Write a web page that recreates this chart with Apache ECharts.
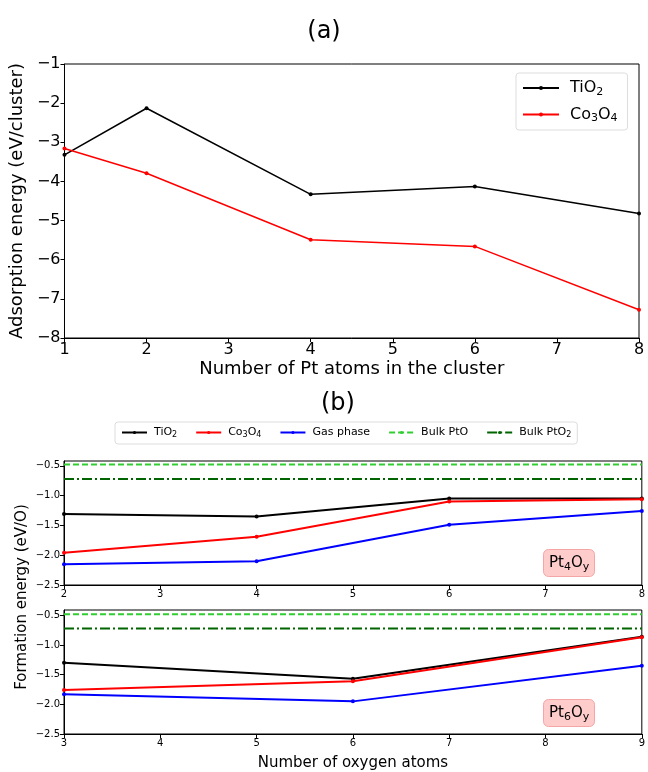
<!DOCTYPE html>
<html><head><meta charset="utf-8">
<script src="https://cdn.jsdelivr.net/npm/echarts@6/dist/echarts.min.js"></script>
<style>html,body{margin:0;padding:0;background:#fff}#c{width:648px;height:772px}</style>
</head><body><div id="c"></div>
<script>
// (a) Adsorption energy
const ptAtoms = [1, 2, 4, 6, 8];
const adsTiO2 = [-3.32, -2.13, -4.33, -4.13, -4.82];
const adsCo3O4 = [-3.16, -3.79, -5.49, -5.66, -7.28];
// (b) Pt4Oy formation energy
const oxyPt4 = [2, 4, 6, 8];
const pt4TiO2 = [-1.31, -1.35, -1.05, -1.05];
const pt4Co3O4 = [-1.96, -1.69, -1.10, -1.06];
const pt4Gas = [-2.15, -2.10, -1.49, -1.26];
// (b) Pt6Oy formation energy
const oxyPt6 = [3, 6, 9];
const pt6TiO2 = [-1.30, -1.57, -0.86];
const pt6Co3O4 = [-1.76, -1.61, -0.87];
const pt6Gas = [-1.83, -1.95, -1.35];
// bulk references
const bulkPtO = -0.48;
const bulkPtO2 = -0.72;

const FONT = 'DejaVu Sans';
const minus = v => String(v).replace('-', '\u2212');
const fmt1 = v => minus(v.toFixed(1));
const pairs = (xs, ys) => xs.map((x, i) => [x, ys[i]]);
const subName = {
  'TiO2': 'TiO{s|2}',
  'Co3O4': 'Co{s|3}O{s|4}',
  'Gas phase': 'Gas phase',
  'Bulk PtO': 'Bulk PtO',
  'Bulk PtO2': 'Bulk PtO{s|2}'
};

const chart = echarts.init(document.getElementById('c'), null, {renderer: 'canvas'});

function lineSeries(name, color, xs, ys, xi, yi, w, sym) {
  return {
    name, type: 'line', xAxisIndex: xi, yAxisIndex: yi,
    data: pairs(xs, ys), symbol: 'circle', symbolSize: sym, showSymbol: true,
    itemStyle: {color}, lineStyle: {color, width: w}, animation: false, z: 3
  };
}
function bulkSeries(name, color, v, xmin, xmax, xi, yi, type) {
  return {
    name, type: 'line', xAxisIndex: xi, yAxisIndex: yi,
    data: [[xmin, v], [xmax, v]], symbol: 'none',
    itemStyle: {color}, lineStyle: {color, width: 2, type}, animation: false, z: 2
  };
}

const dashPtO = [6, 3];
const dashPtO2 = [10, 3, 2, 3];

const axisCommonX = (idx, min, max, fs) => ({
  type: 'value', gridIndex: idx, min, max, interval: 1,
  axisLine: {show: true, lineStyle: {color: '#000', width: 1}},
  axisTick: {show: true, length: 4, lineStyle: {color: '#000'}},
  axisLabel: {color: '#000', fontSize: fs, fontFamily: FONT, margin: 4},
  splitLine: {show: false}
});

const boxStyle = {
  padding: [4, 6, 4, 6],
  backgroundColor: '#ffcccc', borderColor: '#f4a6a6', borderWidth: 1, borderRadius: 5,
  textStyle: {fontFamily: FONT, fontSize: 15, fontWeight: 'normal', color: '#000', lineHeight: 20,
    rich: {s: {fontFamily: FONT, fontSize: 11, verticalAlign: 'bottom', padding: [8, 0, 0, 0]}}}
};

const option = {
  backgroundColor: '#fff',
  animation: false,
  title: [
    {text: '(a)', left: 'center', top: 15, textStyle: {fontFamily: FONT, fontSize: 24, fontWeight: 'normal', color: '#000'}},
    {text: '(b)', left: 316, top: 387, textStyle: {fontFamily: FONT, fontSize: 24, fontWeight: 'normal', color: '#000'}},
    Object.assign({text: 'Pt{s|4}O{s|y}', left: 543, top: 549}, boxStyle),
    Object.assign({text: 'Pt{s|6}O{s|y}', left: 543, top: 699}, boxStyle)
  ],
  legend: [
    {
      data: ['TiO2', 'Co3O4'], orient: 'vertical', left: 516, top: 73,
      padding: [7, 10, 6, 6], itemGap: 9, itemWidth: 36, itemHeight: 5,
      backgroundColor: '#fff', borderColor: '#ddd', borderWidth: 1, borderRadius: 3,
      formatter: n => subName[n],
      textStyle: {fontFamily: FONT, fontSize: 16, color: '#000', padding: [0, 0, 0, 6],
        rich: {s: {fontFamily: FONT, fontSize: 11, padding: [8, 0, 0, 0]}}},
      selectedMode: false
    },
    {
      data: ['TiO2', 'Co3O4', 'Gas phase', 'Bulk PtO', 'Bulk PtO2'], orient: 'horizontal', left: 115, top: 422,
      padding: [5, 6, 5, 6], itemGap: 18, itemWidth: 25, itemHeight: 4,
      backgroundColor: '#fff', borderColor: '#ddd', borderWidth: 1, borderRadius: 3,
      formatter: n => subName[n],
      textStyle: {fontFamily: FONT, fontSize: 11, color: '#000', padding: [0, 0, 0, 2],
        rich: {s: {fontFamily: FONT, fontSize: 8, padding: [5, 0, 0, 0]}}},
      selectedMode: false
    }
  ],
  grid: [
    {left: 59, top: 64, width: 580, height: 274, show: true, borderColor: '#000', borderWidth: 1, containLabel: false},
    {left: 64, top: 461, width: 580, height: 124, show: true, borderColor: '#000', borderWidth: 1, containLabel: false},
    {left: 64, top: 610, width: 580, height: 124, show: true, borderColor: '#000', borderWidth: 1, containLabel: false}
  ],
  xAxis: [
    Object.assign(axisCommonX(0, 1, 8, 16), {
      name: 'Number of Pt atoms in the cluster', nameLocation: 'middle', nameGap: 22,
      nameTextStyle: {fontFamily: FONT, fontSize: 18, color: '#000'}
    }),
    axisCommonX(1, 2, 8, 10),
    Object.assign(axisCommonX(2, 3, 9, 10), {
      name: 'Number of oxygen atoms', nameLocation: 'middle', nameGap: 22,
      nameTextStyle: {fontFamily: FONT, fontSize: 15, color: '#000'}
    })
  ],
  yAxis: [
    {
      type: 'value', gridIndex: 0, min: -8, max: -1, interval: 1,
      name: 'Adsorption energy (eV/cluster)', nameLocation: 'middle', nameGap: 33,
      nameTextStyle: {fontFamily: FONT, fontSize: 18, color: '#000'},
      axisLine: {show: true, lineStyle: {color: '#000'}},
      axisTick: {show: true, length: 4, lineStyle: {color: '#000'}},
      axisLabel: {color: '#000', fontSize: 16, fontFamily: FONT, margin: 4, formatter: v => minus(v)},
      splitLine: {show: false}
    },
    {
      type: 'value', gridIndex: 1, min: -2.5, max: -0.42, interval: 0.5,
      axisLine: {show: true, lineStyle: {color: '#000'}},
      axisTick: {show: true, length: 4, lineStyle: {color: '#000'}},
      axisLabel: {color: '#000', fontSize: 10, fontFamily: FONT, margin: 4, formatter: fmt1, showMaxLabel: false},
      splitLine: {show: false}
    },
    {
      type: 'value', gridIndex: 2, min: -2.5, max: -0.41, interval: 0.5,
      axisLine: {show: true, lineStyle: {color: '#000'}},
      axisTick: {show: true, length: 4, lineStyle: {color: '#000'}},
      axisLabel: {color: '#000', fontSize: 10, fontFamily: FONT, margin: 4, formatter: fmt1, showMaxLabel: false},
      splitLine: {show: false}
    }
  ],
  graphic: [
    {type: 'text', x: 22, y: 597, rotation: Math.PI / 2,
      style: {text: 'Formation energy (eV/O)', fontFamily: FONT, fontSize: 15, fill: '#000',
        align: 'center', verticalAlign: 'middle'}}
  ],
  series: [
    lineSeries('TiO2', '#000000', ptAtoms, adsTiO2, 0, 0, 1.5, 4),
    lineSeries('Co3O4', '#ff0000', ptAtoms, adsCo3O4, 0, 0, 1.5, 4),
    lineSeries('TiO2', '#000000', oxyPt4, pt4TiO2, 1, 1, 2, 4),
    lineSeries('Co3O4', '#ff0000', oxyPt4, pt4Co3O4, 1, 1, 2, 4),
    lineSeries('Gas phase', '#0000ff', oxyPt4, pt4Gas, 1, 1, 2, 4),
    bulkSeries('Bulk PtO', '#32cd32', bulkPtO, 2, 8, 1, 1, dashPtO),
    bulkSeries('Bulk PtO2', '#006400', bulkPtO2, 2, 8, 1, 1, dashPtO2),
    lineSeries('TiO2', '#000000', oxyPt6, pt6TiO2, 2, 2, 2, 4),
    lineSeries('Co3O4', '#ff0000', oxyPt6, pt6Co3O4, 2, 2, 2, 4),
    lineSeries('Gas phase', '#0000ff', oxyPt6, pt6Gas, 2, 2, 2, 4),
    bulkSeries('Bulk PtO', '#32cd32', bulkPtO, 3, 9, 2, 2, dashPtO),
    bulkSeries('Bulk PtO2', '#006400', bulkPtO2, 3, 9, 2, 2, dashPtO2)
  ]
};
chart.setOption(option);
</script>
</body></html>
